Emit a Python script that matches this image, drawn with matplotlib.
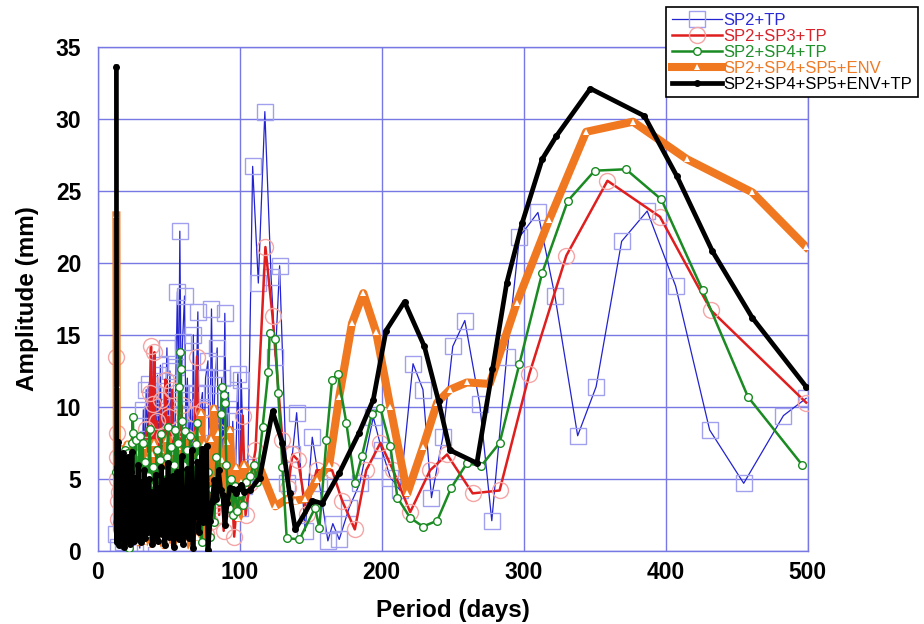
import matplotlib
matplotlib.use('Agg')
from matplotlib import rcParams, pyplot as plt

# ---- 数据：周期 (days) 与振幅 (mm)，按曲线分开 ----
blue_p = [13.0, 14.0, 16.0, 18.0, 20.0, 22.0, 24.0, 26.0, 28.0, 29.5,
          31.0, 32.0, 33.0, 34.0, 35.0, 36.0, 37.0, 38.0, 39.0, 40.0,
          41.0, 42.0, 43.0, 44.0, 45.0, 46.0, 47.0, 48.6, 49.5, 50.7,
          51.8, 53.0, 54.0, 55.0, 56.0, 56.8, 57.7, 58.6, 59.6, 61.0,
          62.0, 63.0, 64.0, 65.2, 66.4, 67.2, 68.2, 69.2, 70.4, 71.4,
          72.4, 73.6, 74.6, 75.8, 77.5, 78.6, 80.0, 81.2, 82.4, 84.0,
          85.2, 86.2, 87.2, 88.2, 89.4, 90.6, 92.0, 93.4, 95.0, 96.6,
          98.6, 100.0, 101.0, 103.0, 105.6, 109, 113, 117.6, 122, 125,
          128, 133, 137, 140, 146, 151, 156, 162, 165.5, 170,
          177, 184.5, 194, 200, 206, 213, 222, 229, 235, 243,
          250, 258.5, 269, 277.5, 288, 297, 310, 322, 338, 351,
          369, 387, 407, 431, 455, 483, 499]
blue_a = [1.2, 0.3, 2.5, 0.6, 1.8, 0.2, 2.2, 0.4, 1.5, 0.2,
          4.0, 9.8, 6.5, 11.2, 7.8, 11.6, 5.2, 9.5, 4.0, 10.8,
          6.8, 12.2, 7.0, 12.9, 5.5, 10.0, 6.0, 14.1, 8.0, 12.5,
          7.2, 10.5, 6.0, 12.8, 18.0, 9.5, 22.2, 11.0, 14.5, 17.7,
          8.5, 12.0, 6.5, 10.5, 5.0, 15.0, 7.5, 11.0, 16.6, 6.0,
          10.0, 11.0, 5.5, 12.0, 13.2, 4.5, 16.8, 7.5, 11.5, 14.1,
          5.0, 9.0, 12.0, 6.0, 16.5, 6.5, 11.0, 3.5, 9.0, 4.0,
          12.3, 3.0, 11.9, 4.5, 5.8, 26.7, 18.6, 30.5, 19.0, 13.5,
          19.8, 4.7, 6.7, 9.6, 1.4, 7.9, 4.7, 0.7, 1.9, 0.8,
          3.0, 4.7, 9.3, 7.0, 5.1, 4.2, 13.0, 11.2, 3.7, 7.9,
          14.2, 16.0, 10.2, 2.1, 13.5, 21.8, 23.5, 17.7, 8.0, 11.4,
          21.5, 23.6, 18.4, 8.4, 4.7, 9.4, 10.6]

red_p = [13.0, 13.2, 13.4, 13.6, 13.9, 14.3, 15.0, 16.0, 17.5, 19.0,
         20.5, 22.0, 23.5, 25.0, 26.5, 28.0, 29.5, 31.0, 32.5, 34.0,
         35.5, 36.6, 37.4, 38.2, 39.0, 39.8, 40.6, 41.8, 43.0, 44.2,
         45.4, 46.6, 47.6, 48.6, 49.8, 51.0, 52.2, 53.4, 54.8, 56.2,
         57.6, 59.0, 60.4, 62.0, 63.6, 65.2, 66.8, 68.4, 69.8, 71.2,
         72.8, 74.2, 75.8, 77.4, 79.0, 80.6, 82.2, 83.8, 85.4, 87.0,
         88.6, 90.2, 92.0, 94.0, 96.0, 98.0, 100.0, 102.0, 104.0, 107,
         111, 118, 123, 130, 134, 137, 141, 147, 154, 165,
         172, 181, 189, 199, 208, 220, 234, 246, 264, 283,
         304, 330, 359, 396, 432, 499]
red_a = [13.5, 8.2, 6.5, 5.0, 3.5, 2.2, 4.1, 1.5, 3.8, 0.8,
         4.5, 2.0, 5.2, 1.3, 3.6, 6.0, 2.5, 7.2, 3.0, 8.5,
         4.2, 11.0, 14.2, 6.0, 10.2, 13.8, 4.5, 9.0, 3.2, 10.5,
         5.0, 8.0, 11.9, 4.0, 9.3, 2.5, 11.2, 3.5, 7.5, 1.8,
         6.5, 10.1, 2.8, 7.9, 1.5, 6.2, 3.0, 9.5, 13.5, 2.4,
         6.8, 9.8, 1.2, 5.0, 2.0, 7.2, 3.2, 8.3, 2.5, 5.5,
         1.4, 6.6, 3.0, 4.8, 1.0, 3.5, 5.0, 9.4, 2.5, 4.7,
         7.0, 21.1, 16.3, 7.7, 4.4, 6.7, 6.3, 2.6, 5.6, 5.6,
         3.5, 1.5, 5.6, 7.5, 5.6, 2.7, 5.6, 6.7, 4.0, 4.2,
         12.3, 20.5, 25.7, 23.2, 16.7, 10.3]

green_p = [13.0, 13.5, 14.2, 15.0, 16.0, 17.0, 18.0, 19.0, 20.0, 21.0,
           22.0, 23.0, 24.0, 24.5, 24.9, 25.5, 26.5, 27.5, 28.5, 29.5,
           30.5, 31.5, 32.5, 33.5, 34.5, 35.5, 36.5, 37.5, 38.5, 39.5,
           40.5, 41.5, 42.5, 43.5, 44.5, 45.5, 46.5, 47.5, 48.5, 49.5,
           50.5, 51.5, 52.5, 53.5, 54.5, 55.5, 56.5, 57.3, 57.8, 58.3,
           59.0, 60.0, 61.0, 62.0, 63.0, 64.0, 65.0, 66.0, 67.0, 68.0,
           69.0, 70.0, 71.0, 72.0, 73.0, 74.0, 75.0, 76.0, 77.5, 79.0,
           80.5, 82.0, 83.5, 85.0, 86.5, 87.5, 88.5, 89.4, 90.5, 92.0,
           93.5, 95.0, 96.5, 98.0, 100.0, 102.0, 104.0, 107.0, 110.0, 112.0,
           116, 120, 121, 125, 127, 130, 133, 142, 153, 156,
           161, 165, 169, 175, 181, 186, 193, 199, 206, 211,
           220, 229, 239, 249, 260, 270, 283, 297, 313, 331,
           350, 372, 397, 426, 458, 496]
green_a = [5.5, 2.0, 6.8, 1.0, 5.6, 0.5, 4.2, 7.0, 2.2, 6.8,
           0.2, 5.3, 7.5, 9.3, 8.2, 3.0, 7.7, 1.5, 6.0, 8.0,
           2.6, 7.5, 4.0, 6.2, 1.2, 5.2, 8.5, 3.5, 5.8, 0.8,
           4.6, 7.0, 2.5, 6.3, 8.1, 3.0, 5.5, 1.5, 6.5, 8.6,
           4.0, 7.2, 2.0, 6.0, 8.4, 3.5, 7.5, 11.4, 13.8, 12.6,
           9.0, 6.0, 8.3, 3.0, 7.0, 5.0, 8.0, 1.8, 6.2, 4.0,
           7.4, 8.9, 3.2, 6.5, 0.6, 5.0, 7.0, 2.5, 5.5, 1.0,
           4.3, 2.0, 6.5, 3.5, 9.5, 11.4, 10.8, 10.3, 6.0, 3.0,
           5.0, 2.5, 4.5, 2.8, 4.0, 3.2, 4.8, 5.2, 6.0, 4.8,
           8.6, 12.4, 15.1, 14.7, 11.0, 5.8, 0.9, 0.8, 3.0, 1.6,
           7.7, 11.9, 12.3, 8.9, 4.7, 6.6, 9.5, 9.9, 7.3, 3.7,
           2.3, 1.7, 2.1, 4.4, 6.1, 5.9, 7.5, 13.0, 19.3, 24.3,
           26.4, 26.5, 24.4, 18.1, 10.7, 6.0]

orange_p = [13.0, 13.2, 13.5, 14.0, 14.5, 15.0, 15.5, 16.0, 16.6, 17.2,
            17.8, 18.4, 19.0, 19.6, 20.2, 20.8, 21.4, 22.0, 22.6, 23.2,
            23.8, 24.4, 25.0, 25.6, 26.3, 27.0, 27.7, 28.4, 29.1, 29.8,
            30.6, 31.4, 32.2, 33.0, 33.8, 34.6, 35.4, 36.2, 37.0, 37.8,
            38.6, 39.4, 40.2, 41.0, 41.8, 42.6, 43.4, 44.2, 45.0, 45.8,
            46.6, 47.4, 48.2, 49.0, 49.8, 50.6, 51.4, 52.2, 53.0, 53.8,
            54.6, 55.6, 56.6, 57.6, 58.6, 59.6, 60.6, 61.6, 62.6, 63.6,
            64.6, 65.6, 66.6, 67.6, 68.6, 69.6, 70.6, 71.6, 72.6, 73.6,
            74.6, 75.8, 77.0, 78.2, 79.4, 80.6, 81.8, 83.0, 84.5, 86.0,
            87.5, 89.0, 91.0, 93.0, 95.0, 97.0, 99.0, 101.0, 103.0, 107,
            114, 125, 133, 139, 146, 154, 163, 170, 179, 187,
            196, 206, 218, 229, 239, 248, 260, 276, 295, 318,
            344, 377, 415, 461, 499]
orange_a = [23.3, 11.5, 1.5, 6.2, 0.8, 5.0, 2.4, 7.1, 1.0, 4.6,
            0.5, 6.4, 2.0, 5.3, 0.9, 7.4, 1.7, 4.1, 0.4, 6.0,
            2.6, 6.1, 1.2, 7.7, 0.8, 5.3, 2.1, 6.8, 0.6, 5.9,
            1.9, 7.3, 0.7, 4.9, 2.5, 6.4, 1.1, 5.0, 0.5, 6.7,
            2.8, 7.5, 1.4, 4.5, 0.9, 6.2, 2.3, 7.0, 1.0, 5.5,
            0.4, 6.5, 2.7, 7.8, 1.3, 5.2, 2.0, 6.9, 0.6, 4.8,
            6.0, 1.5, 7.2, 2.2, 5.7, 0.8, 6.6, 2.9, 8.0, 1.2,
            4.4, 0.3, 6.1, 2.6, 5.3, 1.0, 8.2, 3.3, 9.6, 4.5,
            7.4, 0.7, 5.0, 2.1, 7.8, 3.4, 9.9, 5.2, 8.2, 3.6,
            6.3, 4.0, 7.6, 8.4, 2.6, 5.8, 2.3, 4.8, 6.0, 5.4,
            5.8, 3.1, 3.6, 3.5, 3.6, 4.9, 6.0, 10.7, 15.8, 17.9,
            15.2, 10.0, 4.0, 7.2, 10.3, 11.2, 11.7, 11.6, 17.2, 23.0,
            29.1, 29.8, 27.2, 24.9, 21.1]

black_p = [13.0, 13.2, 13.6, 14.0, 14.4, 14.8, 15.2, 15.6, 16.0, 16.5,
           17.0, 17.5, 18.0, 18.5, 19.0, 19.5, 20.0, 20.5, 21.0, 21.5,
           22.0, 22.5, 23.0, 23.5, 24.0, 24.5, 25.0, 25.5, 26.0, 26.6,
           27.2, 27.8, 28.4, 29.0, 29.6, 30.2, 31.0, 31.8, 32.6, 33.4,
           34.2, 35.0, 35.8, 36.6, 37.4, 38.2, 39.0, 39.8, 40.6, 41.4,
           42.2, 43.0, 43.8, 44.6, 45.4, 46.2, 47.0, 47.8, 48.6, 49.4,
           50.2, 51.0, 51.8, 52.6, 53.4, 54.2, 55.0, 56.0, 57.0, 58.0,
           59.0, 60.0, 61.0, 62.0, 63.0, 64.0, 65.0, 66.0, 67.0, 68.0,
           69.0, 70.0, 71.0, 72.0, 73.0, 74.0, 75.0, 76.5, 77.5, 79.0,
           80.5, 82.0, 83.5, 85.0, 86.5, 88.0, 89.5, 91.0, 93.0, 95.0,
           97.0, 99.0, 101.0, 103.0, 107, 114, 123, 130, 135, 139,
           151, 158, 170, 184, 194, 203, 216, 230, 240, 248,
           267, 278, 288, 299, 313, 323, 347, 385, 408, 433,
           461, 499]
black_a = [33.6, 0.6, 5.8, 1.2, 7.6, 0.4, 4.9, 2.1, 6.3, 0.9,
           5.2, 1.6, 6.8, 0.3, 4.4, 2.7, 5.9, 0.8, 6.5, 1.9,
           4.7, 0.5, 5.5, 2.4, 6.9, 1.1, 3.8, 0.7, 5.1, 2.0,
           4.6, 0.9, 6.0, 1.5, 3.9, 0.6, 4.8, 2.2, 5.6, 0.9,
           3.4, 1.3, 5.0, 2.6, 4.1, 0.5, 3.6, 1.8, 5.3, 2.9,
           0.7, 4.4, 2.0, 5.8, 1.2, 3.3, 0.4, 4.9, 2.5, 6.1,
           1.0, 3.7, 1.6, 5.2, 0.3, 4.0, 2.3, 5.5, 0.8, 3.1,
           6.6, 0.5, 4.3, 1.9, 5.7, 0.9, 3.5, 7.0, 0.2, 4.6,
           2.4, 6.2, 1.3, 3.0, 7.1, 2.0, 5.4, 7.3, 0.1, 2.1,
           3.4, 4.9, 3.6, 5.6, 4.2, 3.9, 1.8, 3.3, 4.4, 4.3,
           4.0, 4.3, 4.6, 4.1, 4.2, 5.1, 9.7, 7.5, 4.0, 1.5,
           3.5, 3.3, 5.4, 8.2, 10.5, 15.3, 17.3, 14.2, 10.4, 7.0,
           6.1, 12.6, 18.6, 22.8, 27.2, 28.8, 32.1, 30.2, 26.0, 20.8,
           16.2, 11.4]

labels = ['SP2+TP', 'SP2+SP3+TP', 'SP2+SP4+TP', 'SP2+SP4+SP5+ENV', 'SP2+SP4+SP5+ENV+TP']
text_colors = ['#2a2ad6', '#d9232b', '#1f8f2a', '#ef7a25', '#000000']

# ---- 字体与画布 ----
rcParams['font.family'] = ['Liberation Sans', 'DejaVu Sans']
grid_c = '#7878e4'

fig = plt.figure(figsize=(9.24, 6.24), dpi=100)
ax = fig.add_axes([0.106, 0.117, 0.768, 0.808])

# 按图例顺序画线，zorder 控制叠放（黑线压在最上面）
ax.plot(blue_p, blue_a, color='#2323cf', lw=0.9, marker='s', ms=12, mfc='none',
        mec='#a0a0ee', mew=1.0, zorder=2, label=labels[0])
ax.plot(red_p, red_a, color='#e01e1e', lw=1.8, marker='o', ms=11.5, mfc='none',
        mec='#f5a5a5', mew=1.0, zorder=3, label=labels[1])
ax.plot(green_p, green_a, color='#1a8a22', lw=1.8, marker='o', ms=5.5, mfc='white',
        mec='#1a8a22', mew=1.0, zorder=4.5, label=labels[2])
ax.plot(orange_p, orange_a, color='#f07820', lw=5.8, marker='^', ms=4, mfc='white',
        mec='white', mew=0, zorder=4, label=labels[3])
ax.plot(black_p, black_a, color='black', lw=3.4, marker='o', ms=4, mfc='black',
        mec='black', zorder=5, label=labels[4])

ax.set_xlim(0, 500)
ax.set_ylim(0, 35)
ax.set_xticks([0, 100, 200, 300, 400, 500])
ax.set_yticks([0, 5, 10, 15, 20, 25, 30, 35])
ax.grid(True, color=grid_c, lw=1.0)
ax.set_axisbelow(True)
for s in ax.spines.values():
    s.set_color(grid_c)
    s.set_linewidth(1.0)

ax.tick_params(length=0, labelsize=16.5)
ax.tick_params(axis='x', pad=7)
ax.tick_params(axis='y', pad=12)
for lbl in ax.get_xticklabels() + ax.get_yticklabels():
    lbl.set_fontweight('bold')

ax.set_xlabel('Period (days)', fontsize=17.5, fontweight='bold', labelpad=11)
ax.set_ylabel('Amplitude (mm)', fontsize=17.5, fontweight='bold', labelpad=12)

# ---- 图例（放在右上角，跨出绘图区）----
leg = fig.legend(loc='upper right', bbox_to_anchor=(0.9935, 0.988), fontsize=12,
                 frameon=True, fancybox=False, edgecolor='black', framealpha=1,
                 numpoints=1, handlelength=3.0, handletextpad=0.1,
                 labelspacing=0.05, borderpad=0.35, borderaxespad=0)
leg.get_frame().set_linewidth(1.2)
leg.set_zorder(10)
for t, c in zip(leg.get_texts(), text_colors):
    t.set_color(c)

fig.savefig('out.png', dpi=100)
